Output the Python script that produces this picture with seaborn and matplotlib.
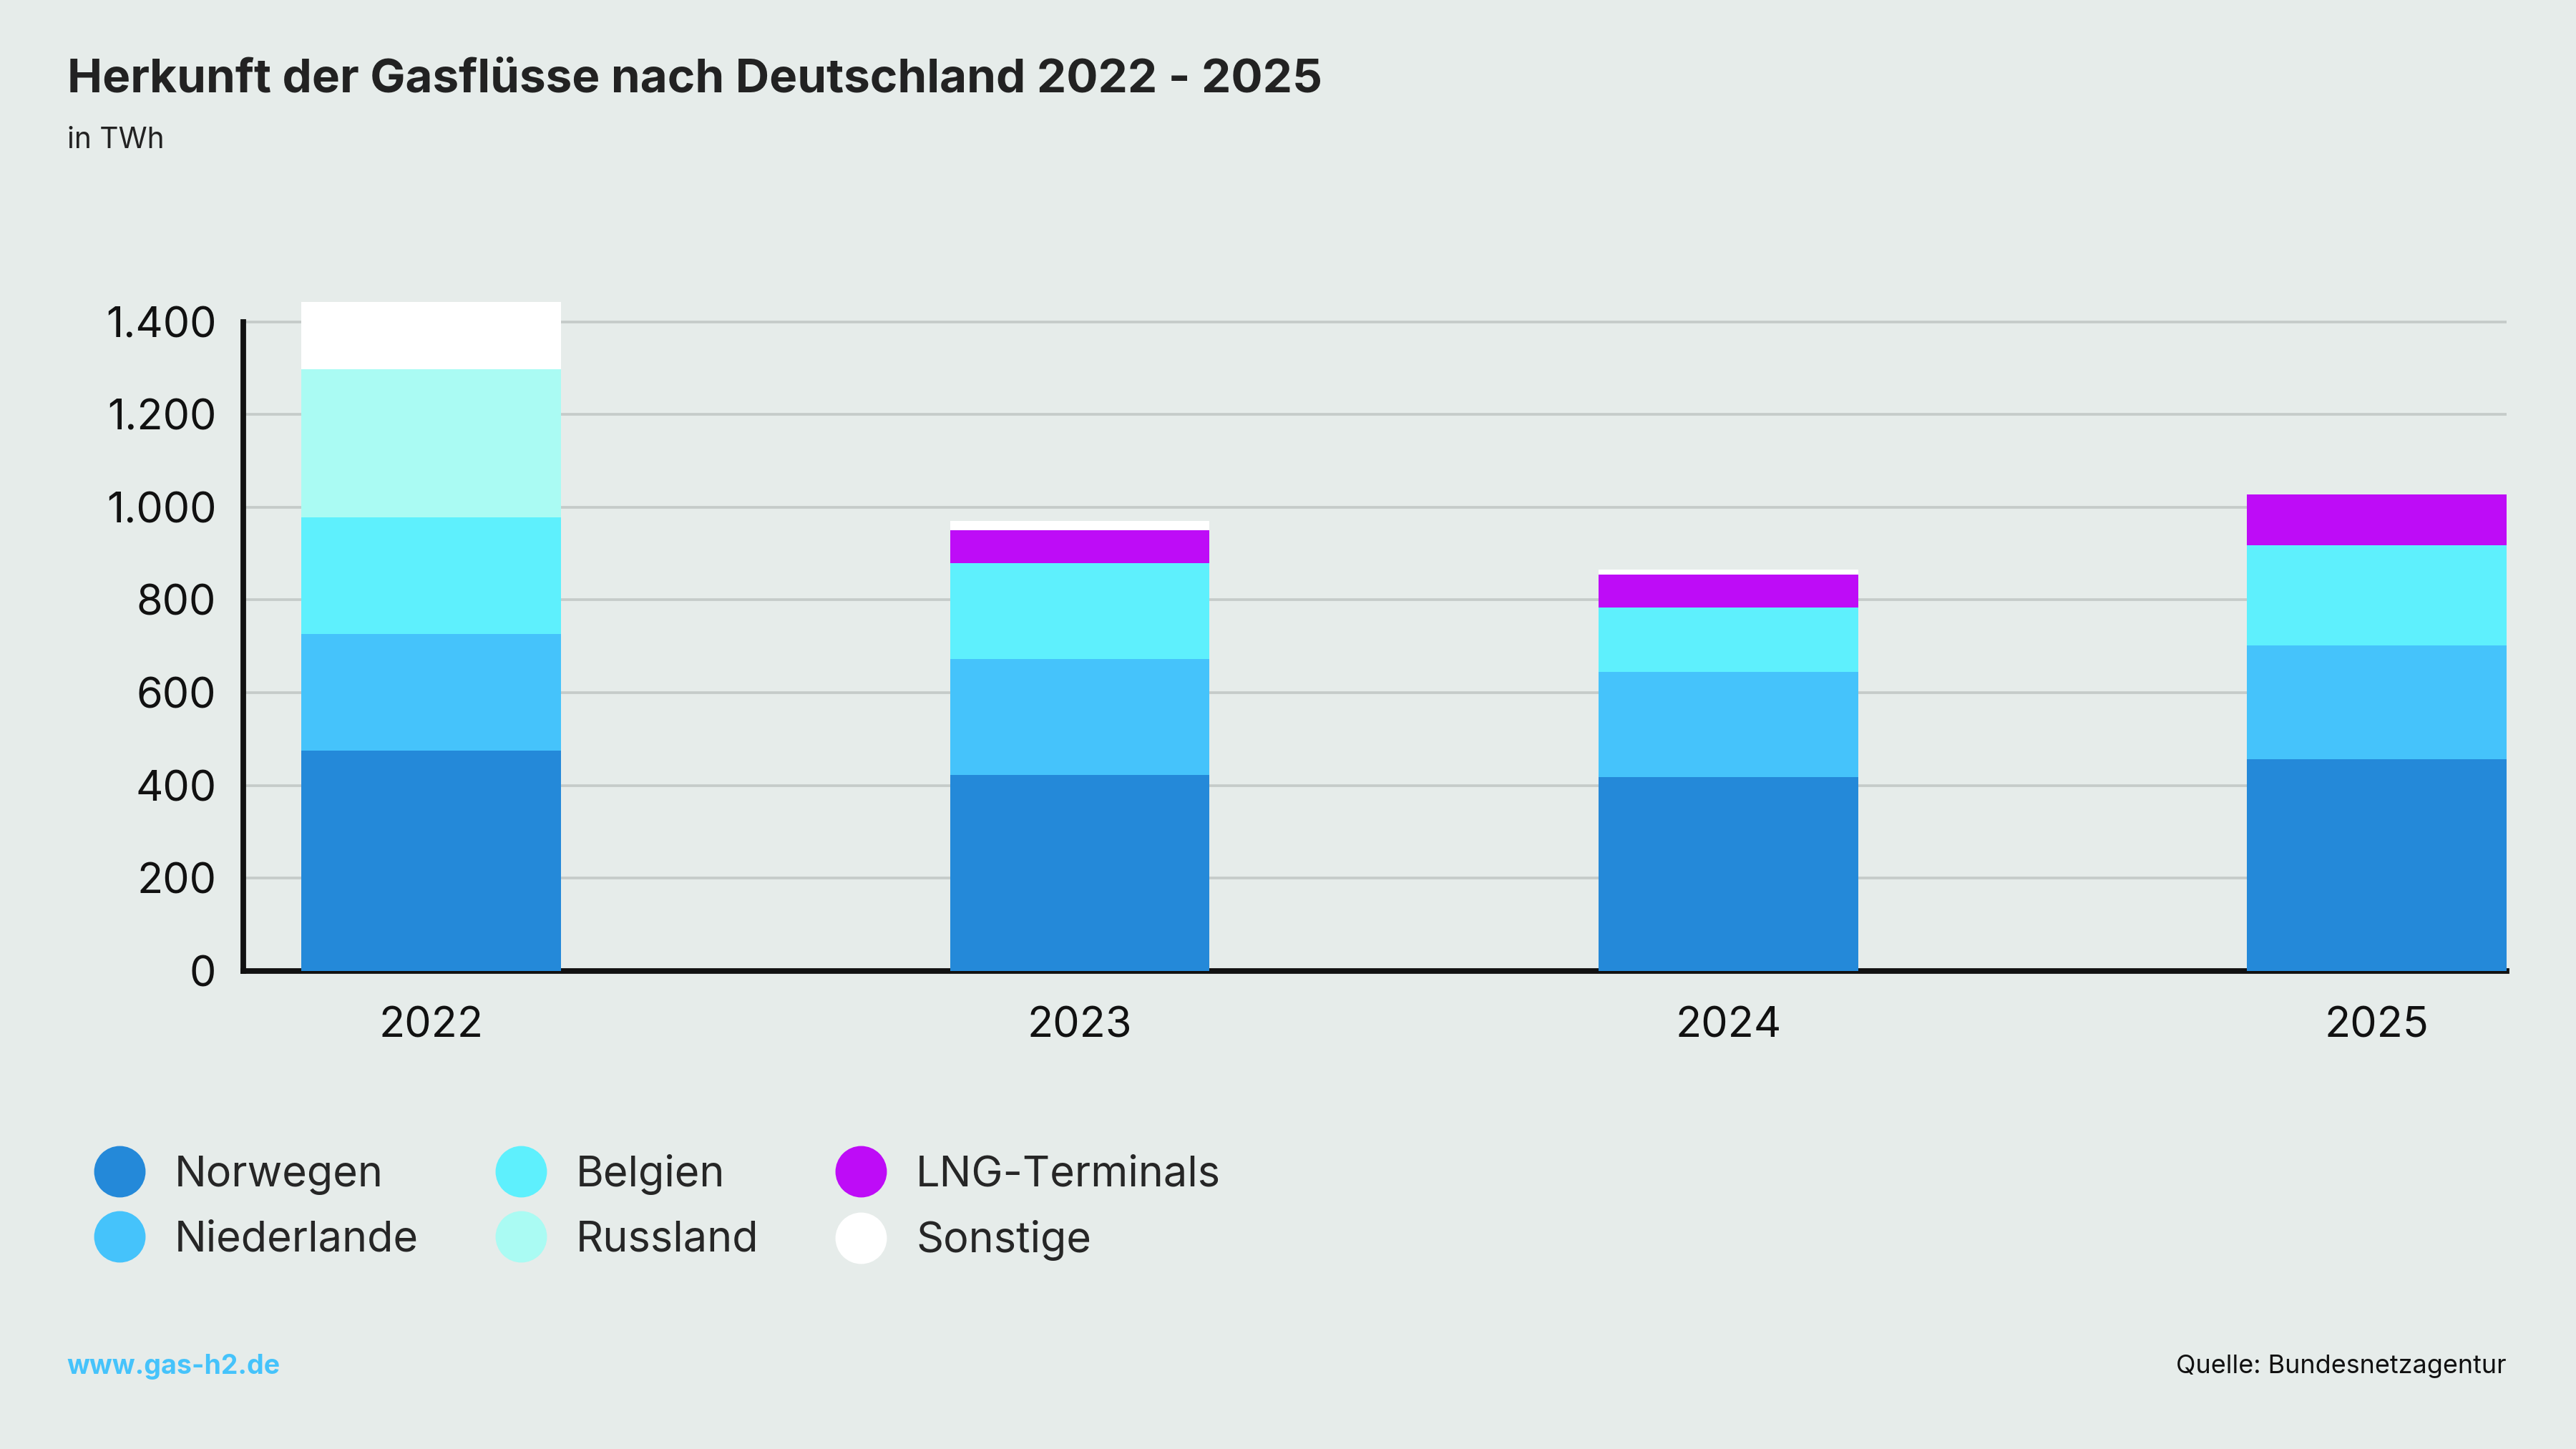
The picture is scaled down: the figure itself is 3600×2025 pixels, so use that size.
import matplotlib
matplotlib.use("Agg")
import matplotlib.pyplot as plt
from matplotlib.lines import Line2D
import seaborn as sns
import numpy as np
import pandas as pd

years = ["2022", "2023", "2024", "2025"]
norwegen = [475, 422, 418, 457]
niederlande = [251, 251, 227, 245]
belgien = [252, 206, 138, 216]
russland = [319, 0, 0, 0]
lng = [0, 71, 71, 110]
sonstige = [145, 21, 11, 0]

series = ["Norwegen", "Niederlande", "Belgien", "Russland", "LNG-Terminals", "Sonstige"]
values = [norwegen, niederlande, belgien, russland, lng, sonstige]
colors = ["#2489d9", "#45c3fb", "#5ef0fd", "#aafbf3", "#be0cf7", "#ffffff"]
bg = "#e6ecea"

sns.set_theme(style="white")
plt.rcParams["font.family"] = ["Inter", "DejaVu Sans"]

fig = plt.figure(figsize=(16, 9), dpi=225, facecolor=bg)
ax = fig.add_axes([0.0944, 0.330, 0.8786, 0.464], facecolor=bg)

bottom = np.zeros(len(years))
for name, vals, col in zip(series, values, colors):
    df = pd.DataFrame({"Jahr": years, "TWh": vals})
    sns.barplot(data=df, x="Jahr", y="TWh", color=col, width=0.4,
                bottom=bottom, ax=ax, saturation=1, linewidth=0, zorder=3)
    bottom = bottom + np.array(vals)

ax.set_xlim(-0.29, 3.2)
ax.set_ylim(0, 1450)
ax.set_yticks(range(0, 1401, 200))
ax.set_yticklabels(["0", "200", "400", "600", "800", "1.000", "1.200", "1.400"])
ax.yaxis.grid(True, color="#c5cbc9", linewidth=1.2, zorder=0)
ax.set_axisbelow(True)
for s in ["top", "right"]:
    ax.spines[s].set_visible(False)
for s in ["left", "bottom"]:
    ax.spines[s].set_color("#111111")
    ax.spines[s].set_linewidth(2.5)
ax.spines["left"].set_bounds(0, 1400)
ax.tick_params(axis="both", labelsize=19, length=0, colors="#111111", pad=12)
ax.tick_params(axis="x", pad=16)
ax.set_xlabel("")
ax.set_ylabel("")

fig.text(0.026, 0.945, "Herkunft der Gasflüsse nach Deutschland 2022 - 2025",
         fontsize=21, fontweight="bold", color="#222222", va="center")
fig.text(0.026, 0.903, "in TWh", fontsize=13, color="#222222", va="center")

handles = [Line2D([0], [0], marker="o", linestyle="", markersize=22,
                  markerfacecolor=c, markeredgecolor=c) for c in colors]
fig.legend(handles, series, loc="upper left", bbox_to_anchor=(0.015, 0.23),
           ncol=3, frameon=False, fontsize=19, handletextpad=0.3,
           columnspacing=1.4, labelspacing=0.6)

fig.text(0.026, 0.057, "www.gas-h2.de", fontsize=12, fontweight="bold",
         color="#45c3fb", va="center")
fig.text(0.973, 0.057, "Quelle: Bundesnetzagentur", fontsize=11.5,
         color="#111111", va="center", ha="right")

fig.savefig("out.png", dpi=225, facecolor=bg)
